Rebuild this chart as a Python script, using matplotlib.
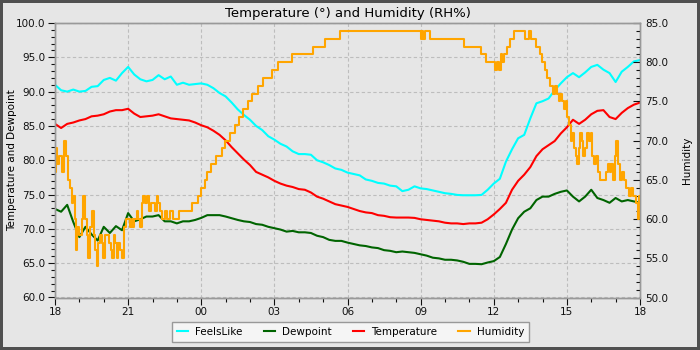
import matplotlib
matplotlib.use('Agg')
import matplotlib.pyplot as plt
from matplotlib.ticker import MultipleLocator, FormatStrFormatter, FixedLocator

# ---------------- data (hours since 18:00) ----------------
hours = [i * 0.25 for i in range(97)]

feelslike = [91.0, 90.2, 90.0, 90.3, 90.0, 90.1, 90.7, 90.8,
             91.7, 92.0, 91.6, 92.7, 93.6, 92.5, 91.8, 91.5,
             91.7, 92.4, 91.8, 92.2, 91.0, 91.3, 91.0, 91.1,
             91.2, 91.0, 90.5, 89.8, 89.3, 88.4, 87.4, 86.6,
             85.9, 85.0, 84.4, 83.5, 83.0, 82.4, 82.0, 81.3,
             80.9, 80.9, 80.8, 80.0, 79.7, 79.3, 78.8, 78.6,
             78.2, 78.0, 77.8, 77.2, 77.0, 76.7, 76.6, 76.3,
             76.2, 75.5, 75.7, 76.2, 75.9, 75.8, 75.6, 75.4,
             75.2, 75.1, 74.95, 74.9, 74.9, 74.9, 74.95, 75.7,
             76.6, 77.3, 79.8, 81.6, 83.2, 83.7, 86.1, 88.3,
             88.6, 89.0, 90.2, 91.2, 92.1, 92.7, 92.1, 92.8,
             93.6, 93.9, 93.2, 92.7, 91.4, 92.9, 93.6, 94.4,
             94.6]

dewpoint = [72.9, 72.5, 73.5, 71.0, 68.8, 70.3, 69.2, 68.3,
            70.3, 69.4, 70.4, 69.8, 72.3, 71.1, 71.4, 71.8,
            71.8, 72.0, 71.1, 71.1, 70.8, 71.1, 71.1, 71.3,
            71.6, 72.0, 72.0, 72.0, 71.8, 71.55, 71.3, 71.1,
            71.0, 70.7, 70.6, 70.3, 70.1, 69.9, 69.6, 69.7,
            69.5, 69.5, 69.4, 69.0, 68.8, 68.4, 68.25, 68.25,
            68.0, 67.8, 67.6, 67.5, 67.3, 67.2, 66.9, 66.8,
            66.6, 66.7, 66.6, 66.5, 66.3, 66.1, 65.8, 65.7,
            65.5, 65.5, 65.4, 65.2, 64.9, 64.9, 64.85, 65.1,
            65.3, 65.9, 67.8, 69.9, 71.55, 72.5, 73.0, 74.2,
            74.7, 74.7, 75.1, 75.4, 75.6, 74.7, 74.0, 74.7,
            75.7, 74.5, 74.2, 73.8, 74.5, 74.0, 74.2, 74.0,
            73.8]

temperature = [85.3, 84.7, 85.3, 85.5, 85.8, 86.0, 86.4, 86.5,
               86.7, 87.1, 87.3, 87.3, 87.5, 86.8, 86.3, 86.4,
               86.5, 86.7, 86.4, 86.1, 86.0, 85.9, 85.8, 85.5,
               85.1, 84.8, 84.3, 83.7, 82.9, 81.9, 81.0, 80.1,
               79.3, 78.3, 77.9, 77.5, 77.0, 76.6, 76.3, 76.1,
               75.8, 75.7, 75.3, 74.7, 74.4, 74.0, 73.6, 73.4,
               73.2, 72.9, 72.6, 72.4, 72.3, 72.0, 71.9, 71.7,
               71.65, 71.65, 71.65, 71.6, 71.4, 71.3, 71.2, 71.1,
               70.9, 70.8, 70.8, 70.7, 70.8, 70.8, 70.9, 71.4,
               72.1, 72.9, 73.8, 75.7, 77.0, 77.9, 79.0, 80.6,
               81.6, 82.2, 82.8, 83.9, 84.8, 85.9, 85.3, 85.9,
               86.7, 87.2, 87.3, 86.3, 86.0, 86.9, 87.6, 88.1,
               88.4]

hum_hours = [0.0, 0.05, 0.1, 0.18, 0.3, 0.38, 0.45, 0.52, 0.6, 0.68,
             0.75, 0.8, 0.86, 0.9, 1.0, 1.1, 1.16, 1.22, 1.3, 1.36,
             1.42, 1.5, 1.58, 1.64, 1.72, 1.78, 1.85, 1.92, 1.97, 2.05,
             2.2, 2.28, 2.33, 2.4, 2.47, 2.54, 2.6, 2.67, 2.76, 2.82,
             2.9, 3.08, 3.15, 3.2, 3.26, 3.35, 3.42, 3.5, 3.56, 3.62,
             3.7, 3.78, 3.85, 3.92, 4.1, 4.17, 4.22, 4.3, 4.4, 4.5,
             4.6, 4.7, 4.85, 5.1, 5.6, 5.85, 6.0, 6.15, 6.25, 6.42,
             6.6, 6.84, 6.97, 7.18, 7.38, 7.56, 7.73, 7.93, 8.07, 8.34,
             8.55, 8.89, 9.16, 9.71, 10.6, 11.08, 11.7, 15.0, 15.05, 15.1,
             15.18, 15.38, 16.79, 17.48, 17.68, 18.05, 18.15, 18.22, 18.29, 18.35,
             18.41, 18.55, 18.68, 18.82, 19.27, 19.45, 19.53, 19.72, 19.88, 19.99,
             20.09, 20.18, 20.32, 20.43, 20.52, 20.59, 20.66, 20.73, 20.8, 20.87,
             20.95, 21.02, 21.08, 21.15, 21.22, 21.29, 21.36, 21.42, 21.49, 21.55,
             21.6, 21.68, 21.75, 21.83, 21.9, 21.97, 22.04, 22.12, 22.2, 22.27,
             22.37, 22.61, 22.68, 22.75, 22.83, 22.91, 22.99, 23.03, 23.09, 23.18,
             23.27, 23.33, 23.43, 23.54, 23.63, 23.73, 23.84, 23.91, 23.96, 24.0]

humidity = [66, 69, 67, 68, 66, 70, 68, 65, 64, 62,
            63, 60, 56, 59, 58, 60, 63, 60, 58, 55,
            59, 61, 58, 56, 54, 57, 58, 57, 55, 58,
            57, 56, 55, 58, 57, 55, 57, 56, 55, 59,
            60, 59, 60, 59, 60, 61, 60, 59, 62, 63,
            62, 63, 61, 62, 61, 63, 62, 61, 60, 61,
            60, 61, 60, 61, 62, 63, 64, 65, 66, 67,
            68, 69, 70, 71, 72, 73, 74, 75, 76, 77,
            78, 79, 80, 81, 82, 83, 84, 83, 84, 83,
            84, 83, 82, 81, 80, 79, 80, 79, 81, 80,
            81, 82, 83, 84, 83, 84, 83, 82, 81, 80,
            79, 78, 77, 76, 77, 76, 75, 76, 75, 74,
            75, 73, 72, 70, 71, 69, 68, 67, 69, 71,
            70, 68, 69, 71, 70, 71, 68, 67, 68, 66,
            65, 66, 67, 66, 67, 65, 68, 70, 67, 65,
            66, 65, 64, 63, 64, 63, 62, 60, 63, 63]

x_tick_pos = [0, 3, 6, 9, 12, 15, 18, 21, 24]
x_tick_labels = ['18', '21', '00', '03', '06', '09', '12', '15', '18']

series_names = ['FeelsLike', 'Dewpoint', 'Temperature', 'Humidity']
series_colors = ['#00ffff', '#006400', '#ff0000', '#ffa500']

# ---------------- figure ----------------
BG = '#e6e6e6'
fig = plt.figure(figsize=(7, 3.5), dpi=100, facecolor=BG,
                 edgecolor='#505050', linewidth=4.3)
ax = fig.add_axes([55 / 700, 52.5 / 350, 585 / 700, 274.5 / 350])
ax.set_facecolor(BG)

lw = 1.5
l1, = ax.plot(hours, feelslike, color=series_colors[0], lw=lw)
l2, = ax.plot(hours, dewpoint, color=series_colors[1], lw=lw)
l3, = ax.plot(hours, temperature, color=series_colors[2], lw=lw)

ax2 = ax.twinx()
l4, = ax2.plot(hum_hours, humidity, color=series_colors[3], lw=lw,
               drawstyle='steps-post')

ax.set_xlim(0, 24)
ax.set_ylim(60, 100)
ax2.set_ylim(50, 85)

ax.xaxis.set_major_locator(FixedLocator(x_tick_pos))
ax.set_xticklabels(x_tick_labels)
ax.xaxis.set_minor_locator(MultipleLocator(1))
ax.yaxis.set_major_locator(MultipleLocator(5))
ax.yaxis.set_minor_locator(MultipleLocator(1))
ax.yaxis.set_major_formatter(FormatStrFormatter('%.1f'))
ax2.yaxis.set_major_locator(MultipleLocator(5))
ax2.yaxis.set_minor_locator(MultipleLocator(1))
ax2.yaxis.set_major_formatter(FormatStrFormatter('%.1f'))

fs = 7.5
ax.tick_params(axis='both', which='major', direction='out', length=5,
               width=0.8, labelsize=fs, colors='#111111', pad=2)
ax.tick_params(axis='both', which='minor', direction='out', length=3,
               width=0.8, colors='#111111')
ax2.tick_params(axis='y', which='major', direction='in', length=5,
                width=0.8, labelsize=fs, colors='#111111', pad=4)
ax2.tick_params(axis='y', which='minor', direction='in', length=3,
                width=0.8, colors='#111111')

for a in (ax, ax2):
    for s in a.spines.values():
        s.set_color('#999999')
        s.set_linewidth(1.0)

ax.grid(True, which='major', color='#bdbdbd', linestyle=(0, (3, 2.2)),
        linewidth=0.8)
ax.set_axisbelow(True)

ax.set_ylabel('Temperature and Dewpoint', fontsize=fs)
ax.yaxis.set_label_coords((17 - 55) / 585, 0.5)
ax2.set_ylabel('Humidity', fontsize=fs)
ax2.yaxis.set_label_coords((682 - 55) / 585, 0.5)
ax.set_title('Temperature (°) and Humidity (RH%)', fontsize=9.5, pad=4)

leg = fig.legend([l1, l2, l3, l4], series_names, loc='lower center',
                 bbox_to_anchor=(350.5 / 700, 3 / 350), ncol=4, fontsize=fs,
                 frameon=True, fancybox=False, edgecolor='#999999',
                 facecolor='#f5f5f5', framealpha=1, handlelength=1.1,
                 handletextpad=0.7, columnspacing=2.0, borderpad=0.45)
leg.get_frame().set_linewidth(1.0)

fig.savefig('out.png', dpi=100, facecolor=BG, edgecolor='#505050')
